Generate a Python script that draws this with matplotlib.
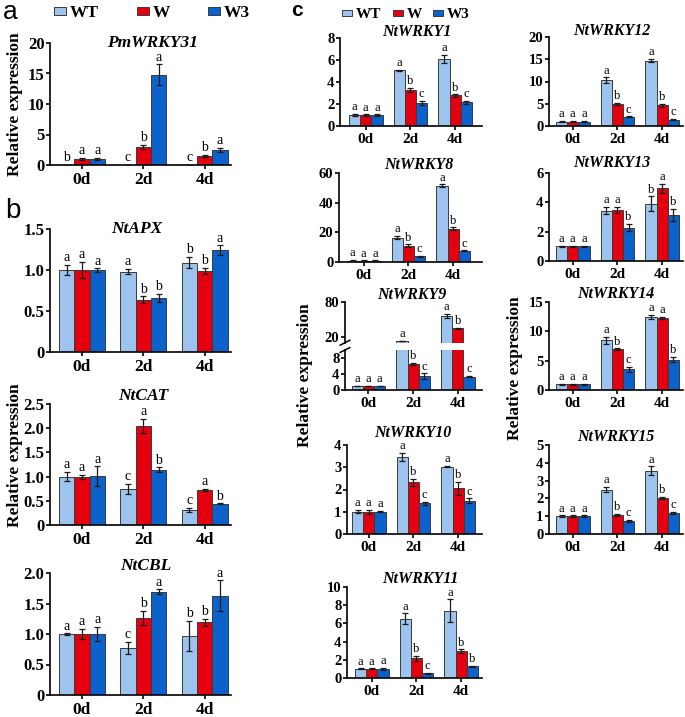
import matplotlib.pyplot as plt
import numpy as np

plt.rcParams['font.family'] = ['Liberation Serif', 'DejaVu Serif']
plt.rcParams['font.weight'] = 'bold'
plt.rcParams['axes.linewidth'] = 1.2

days = ['0d', '2d', '4d']
lines = ['WT', 'W', 'W3']
colors = ['#9dc3ef', '#e50010', '#0b62cb']

# rows: WT, W, W3 ; columns: 0d, 2d, 4d
pmwrky31_mean = [[0, 0, 0], [1.0, 3.0, 1.5], [1.0, 14.8, 2.5]]
pmwrky31_err = [[0, 0, 0], [0.15, 0.3, 0.2], [0.15, 1.7, 0.3]]
pmwrky31_sig = [['b', 'c', 'c'], ['a', 'b', 'b'], ['a', 'a', 'a']]

ntapx_mean = [[1.0, 0.98, 1.09], [1.0, 0.64, 0.99], [1.0, 0.66, 1.24]]
ntapx_err = [[0.06, 0.03, 0.07], [0.1, 0.04, 0.04], [0.02, 0.05, 0.06]]
ntapx_sig = [['a', 'a', 'b'], ['a', 'b', 'b'], ['a', 'b', 'a']]

ntcat_mean = [[1.0, 0.75, 0.31], [1.0, 2.05, 0.73], [1.01, 1.14, 0.435]]
ntcat_err = [[0.1, 0.1, 0.05], [0.04, 0.15, 0.02], [0.2, 0.05, 0.01]]
ntcat_sig = [['a', 'c', 'c'], ['a', 'a', 'a'], ['a', 'b', 'b']]

ntcbl_mean = [[1.0, 0.77, 0.97], [1.0, 1.26, 1.19], [1.0, 1.69, 1.63]]
ntcbl_err = [[0.01, 0.1, 0.25], [0.08, 0.12, 0.06], [0.12, 0.04, 0.25]]
ntcbl_sig = [['a', 'c', 'b'], ['a', 'b', 'b'], ['a', 'a', 'a']]

abc_sig = [['a', 'a', 'a'], ['a', 'b', 'b'], ['a', 'c', 'c']]

wrky1_mean = [[1.0, 5.05, 6.1], [1.0, 3.3, 2.78], [1.0, 2.1, 2.15]]
wrky1_err = [[0.1, 0.05, 0.35], [0.05, 0.2, 0.1], [0.05, 0.2, 0.15]]

wrky12_mean = [[1.0, 10.3, 14.7], [1.0, 5.0, 4.65], [1.0, 2.1, 1.45]]
wrky12_err = [[0.1, 0.6, 0.4], [0.1, 0.2, 0.3], [0.1, 0.1, 0.1]]

wrky8_mean = [[1.0, 16.5, 51.4], [1.0, 11.0, 22.4], [1.0, 3.8, 7.5]]
wrky8_err = [[0.3, 1.0, 1.0], [0.2, 1.0, 1.0], [0.2, 0.3, 0.4]]

wrky13_mean = [[1.0, 3.43, 3.9], [1.0, 3.5, 4.95], [1.0, 2.27, 3.16]]
wrky13_err = [[0.03, 0.25, 0.5], [0.05, 0.2, 0.3], [0.05, 0.25, 0.4]]
wrky13_sig = [['a', 'a', 'b'], ['a', 'a', 'a'], ['a', 'b', 'b']]

wrky9_mean = [[1.0, 12.5, 56.0], [1.0, 6.55, 34.6], [1.0, 3.5, 3.35]]
wrky9_err = [[0.1, 0.3, 4.0], [0.1, 0.3, 1.5], [0.1, 0.7, 0.2]]

wrky14_mean = [[1.0, 8.45, 12.45], [1.0, 7.0, 12.3], [1.0, 3.55, 5.15]]
wrky14_err = [[0.1, 0.6, 0.35], [0.1, 0.1, 0.2], [0.1, 0.4, 0.45]]
wrky14_sig = [['a', 'a', 'a'], ['a', 'b', 'a'], ['a', 'c', 'b']]

wrky10_mean = [[1.0, 3.47, 3.03], [1.0, 2.32, 2.05], [1.0, 1.38, 1.5]]
wrky10_err = [[0.07, 0.18, 0.04], [0.08, 0.17, 0.28], [0.03, 0.08, 0.1]]

wrky15_mean = [[1.0, 2.5, 3.55], [1.0, 1.07, 2.02], [1.0, 0.73, 1.18]]
wrky15_err = [[0.05, 0.15, 0.25], [0.05, 0.05, 0.05], [0.05, 0.05, 0.05]]

wrky11_mean = [[1.0, 6.5, 7.4], [1.0, 2.15, 2.95], [1.0, 0.5, 1.28]]
wrky11_err = [[0.05, 0.6, 1.25], [0.05, 0.3, 0.2], [0.1, 0.1, 0.05]]
wrky11_sig = [['a', 'a', 'a'], ['a', 'b', 'b'], ['a', 'c', 'b']]

FW, FH = 685, 717
fig = plt.figure(figsize=(FW / 100, FH / 100), dpi=100)


def px_axes(left, top, right, bottom):
    return fig.add_axes([left / FW, 1 - bottom / FH, (right - left) / FW, (bottom - top) / FH])


def draw(ax, mean, err, sig, ylim, yticks, ytl, step, gap, big=True, title=None, tdx=0, tdy=0):
    bw = 0.25
    x = np.arange(3)
    fs_tick = 12 if big else 10.5
    fs_x = 12.5 if big else 11
    fs_sig = 10 if big else 9
    for i in range(3):
        xs = x + (i - 1) * bw
        ax.bar(xs, mean[i], bw, color=colors[i], edgecolor='#3a3a3a', linewidth=0.7,
               label=lines[i], zorder=2)
        ax.errorbar(xs, mean[i], yerr=err[i], fmt='none', ecolor='#1a1a1a', elinewidth=0.9,
                    capsize=2.5 if big else 2, capthick=0.9, zorder=3)
        for j in range(3):
            top = mean[i][j] + err[i][j]
            if ylim[0] <= top <= ylim[1]:
                ax.annotate(sig[i][j], (xs[j], top), xytext=(0, 0.5), textcoords='offset points',
                            ha='center', va='bottom', fontsize=fs_sig, fontweight='normal')
    wpx = ax.get_position().width * FW
    x0 = -1.5 * bw - gap / step
    ax.set_xlim(x0, x0 + wpx / step)
    ax.set_ylim(ylim)
    ax.set_yticks(yticks)
    ax.set_yticklabels(ytl)
    ax.set_xticks(x)
    ax.set_xticklabels(days)
    ax.spines['top'].set_visible(False)
    ax.spines['right'].set_visible(False)
    ax.tick_params(axis='y', length=3, width=1.2, pad=1, labelsize=fs_tick)
    ax.tick_params(axis='x', length=3, width=1.2, pad=2, labelsize=fs_x)
    if title:
        ax.annotate(title, (0.5, 1.0), xycoords='axes fraction', xytext=(tdx, tdy),
                    textcoords='offset points', ha='center', va='center',
                    fontsize=12.5 if big else 11.5, style='italic', fontweight='bold')


S1, S2 = 61.3, 44.7

# panel a
ax_a = px_axes(50, 43, 231, 165)
draw(ax_a, pmwrky31_mean, pmwrky31_err, pmwrky31_sig, (0, 20), [0, 5, 10, 15, 20],
     ['0', '5', '10', '15', '20'], S1, 9, title='PmWRKY31', tdx=9)

# panel b
ax = px_axes(50, 229, 231, 352)
draw(ax, ntapx_mean, ntapx_err, ntapx_sig, (0, 1.5), [0, 0.5, 1.0, 1.5],
     ['0', '0.5', '1.0', '1.5'], S1, 9, title='NtAPX', tdx=-3)
ax = px_axes(50, 404, 231, 525)
draw(ax, ntcat_mean, ntcat_err, ntcat_sig, (0, 2.5), [0, 0.5, 1.0, 1.5, 2.0, 2.5],
     ['0', '0.5', '1.0', '1.5', '2.0', '2.5'], S1, 9, title='NtCAT', tdx=2, tdy=5.5)
ax = px_axes(50, 573, 231, 695)
draw(ax, ntcbl_mean, ntcbl_err, ntcbl_sig, (0, 2.0), [0, 0.5, 1.0, 1.5, 2.0],
     ['0', '0.5', '1.0', '1.5', '2.0'], S1, 9, title='NtCBL', tdx=4, tdy=5)

# panel c, left column
ax_c = px_axes(340, 38, 482, 126)
draw(ax_c, wrky1_mean, wrky1_err, abc_sig, (0, 8), [0, 2, 4, 6, 8],
     ['0', '2', '4', '6', '8'], S2, 9, big=False, title='NtWRKY1', tdx=4, tdy=4)
ax = px_axes(339, 173, 482, 262)
draw(ax, wrky8_mean, wrky8_err, abc_sig, (0, 60), [0, 20, 40, 60],
     ['0', '20', '40', '60'], S2, 8, big=False, title='NtWRKY8', tdx=6, tdy=6)

# NtWRKY9 with broken axis
ax_up = px_axes(345, 302, 482, 342.7)
draw(ax_up, wrky9_mean, wrky9_err, abc_sig, (10, 80), [20, 80], ['20', '80'], S2, 6.7,
     big=False, title='NtWRKY9', tdx=-1, tdy=5)
ax_up.spines['bottom'].set_visible(False)
ax_up.tick_params(axis='x', length=0, labelbottom=False)
ax_lo = px_axes(345, 350, 482, 390)
draw(ax_lo, wrky9_mean, wrky9_err, abc_sig, (0, 10), [0, 4, 8], ['0', '4', '8'], S2, 6.7,
     big=False)
for a, yy in ((ax_up, 0.0), (ax_lo, 1.0)):
    a.plot([-0.035, 0.035], [yy - 0.06, yy + 0.06], transform=a.transAxes, color='k',
           lw=1.1, clip_on=False)

ax = px_axes(347, 445, 482, 534)
draw(ax, wrky10_mean, wrky10_err, abc_sig, (0, 4), [0, 1, 2, 3, 4],
     ['0', '1', '2', '3', '4'], S2, 5, big=False, title='NtWRKY10', tdx=-1, tdy=8.5)
ax = px_axes(347, 587, 482, 678)
draw(ax, wrky11_mean, wrky11_err, wrky11_sig, (0, 10), [0, 2, 4, 6, 8, 10],
     ['0', '2', '4', '6', '8', '10'], S2, 8, big=False, title='NtWRKY11', tdx=4, tdy=5.5)

# panel c, right column
ax = px_axes(549, 37, 683, 126)
draw(ax, wrky12_mean, wrky12_err, abc_sig, (0, 20), [0, 5, 10, 15, 20],
     ['0', '5', '10', '15', '20'], S2, 7, big=False, title='NtWRKY12', tdx=-3, tdy=4)
ax = px_axes(549, 173, 683, 261)
draw(ax, wrky13_mean, wrky13_err, wrky13_sig, (0, 6), [0, 2, 4, 6],
     ['0', '2', '4', '6'], S2, 7, big=False, title='NtWRKY13', tdx=-3, tdy=7)
ax = px_axes(549, 302, 683, 390)
draw(ax, wrky14_mean, wrky14_err, wrky14_sig, (0, 15), [0, 5, 10, 15],
     ['0', '5', '10', '15'], S2, 7, big=False, title='NtWRKY14', tdx=0, tdy=6)
ax = px_axes(549, 445, 683, 534)
draw(ax, wrky15_mean, wrky15_err, abc_sig, (0, 5), [0, 1, 2, 3, 4, 5],
     ['0', '1', '2', '3', '4', '5'], S2, 7, big=False, title='NtWRKY15', tdx=0, tdy=6)

# y labels
fig.text(15 / FW, 1 - 104 / FH, 'Relative expression', rotation=90, ha='center', va='center', fontsize=12.5)
fig.text(15 / FW, 1 - 455 / FH, 'Relative expression', rotation=90, ha='center', va='center', fontsize=12.5)
fig.text(305 / FW, 1 - 375 / FH, 'Relative expression', rotation=90, ha='center', va='center', fontsize=12.5)
fig.text(515 / FW, 1 - 368 / FH, 'Relative expression', rotation=90, ha='center', va='center', fontsize=12.5)

# panel letters
fig.text(3 / FW, 1 - 19 / FH, 'a', fontsize=19, family='Liberation Sans', fontweight='normal')
fig.text(5 / FW, 1 - 218 / FH, 'b', fontsize=20, family='Liberation Sans', fontweight='normal')
fig.text(291 / FW, 1 - 16 / FH, 'c', fontsize=15, family='Liberation Sans', fontweight='bold')

# legends
h, l = ax_a.get_legend_handles_labels()
fig.legend(h, l, loc='center left', bbox_to_anchor=(54 / FW, 1 - 13 / FH), ncol=3, frameon=False,
           fontsize=12.5, handlelength=0.7, handleheight=0.3, handletextpad=0.2,
           columnspacing=2.2, borderpad=0, borderaxespad=0)
h, l = ax_c.get_legend_handles_labels()
fig.legend(h, l, loc='center left', bbox_to_anchor=(342 / FW, 1 - 15 / FH), ncol=3, frameon=False,
           fontsize=11, handlelength=0.65, handleheight=0.3, handletextpad=0.25,
           columnspacing=0.75, borderpad=0, borderaxespad=0)

fig.savefig('out.png', dpi=100)
